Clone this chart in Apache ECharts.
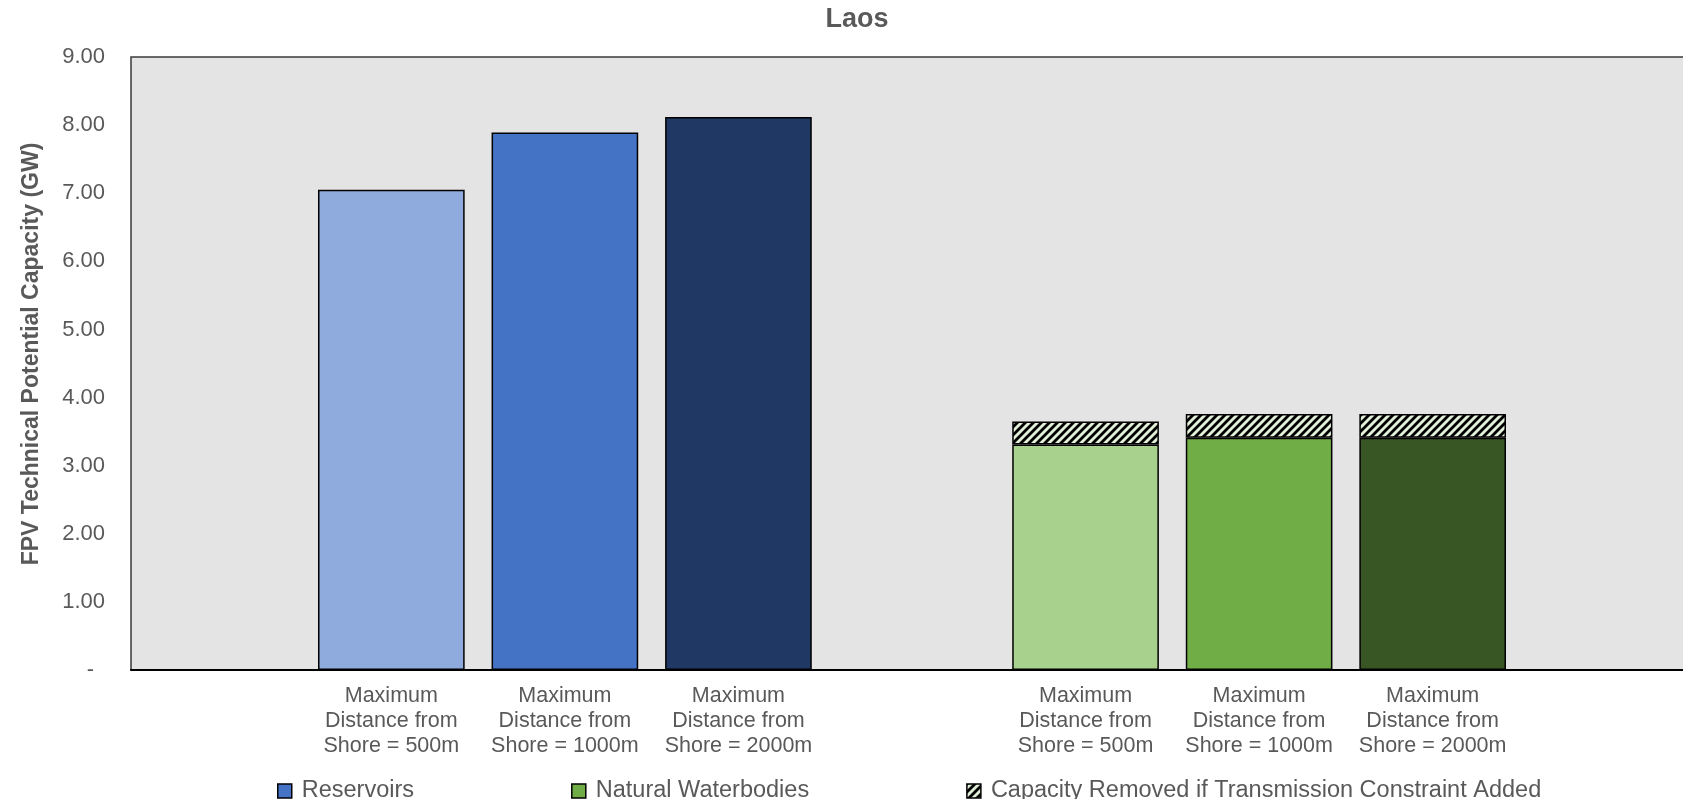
<!DOCTYPE html>
<html>
<head>
<meta charset="utf-8">
<title>Laos FPV Technical Potential Capacity</title>
<script src="https://cdn.jsdelivr.net/npm/echarts@6/dist/echarts.min.js"></script>
<style>
  html, body { margin: 0; padding: 0; background: #ffffff; }
  #chart { width: 1683px; height: 799px; }
</style>
</head>
<body>
<div id="chart"></div>
<script>
// Category slots: empty padding slots around and between the two groups
const categories = [
  '',
  'Maximum\nDistance from\nShore = 500m',
  'Maximum\nDistance from\nShore = 1000m',
  'Maximum\nDistance from\nShore = 2000m',
  '',
  'Maximum\nDistance from\nShore = 500m',
  'Maximum\nDistance from\nShore = 1000m',
  'Maximum\nDistance from\nShore = 2000m',
  ''
];

// Capacity in GW
const reservoirs = [null, 7.05, 7.89, 8.12, null, null, null, null, null];
const naturalWaterbodies = [null, null, null, null, null, 3.31, 3.41, 3.41, null];
const capacityRemoved = [null, null, null, null, null, 0.34, 0.35, 0.35, null];

const seriesNames = [
  'Reservoirs',
  'Natural Waterbodies',
  'Capacity Removed if Transmission Constraint Added'
];
const yAxisTitle = 'FPV Technical Potential Capacity (GW)';

// Per-bar shades (light → dark with increasing shore distance)
const reservoirShades = [null, '#8FAADC', '#4472C4', '#203864', null, null, null, null, null];
const naturalShades = [null, null, null, null, null, '#A9D18E', '#70AD47', '#375623', null];

const FONT = "'Liberation Sans', Arial, sans-serif";
const TEXT_GREY = '#595959';

// Diagonal hatch tile for the transmission-constraint segment
function makeHatch() {
  const s = 8;
  const c = document.createElement('canvas');
  c.width = s; c.height = s;
  const g = c.getContext('2d');
  g.fillStyle = '#E2F0D9';
  g.fillRect(0, 0, s, s);
  g.strokeStyle = '#000000';
  g.lineWidth = 2.8;
  g.beginPath();
  g.moveTo(-s, s * 2); g.lineTo(s * 2, -s);
  g.moveTo(-s * 2, s * 2); g.lineTo(s, -s);
  g.moveTo(0, s * 2); g.lineTo(s * 3, -s);
  g.stroke();
  return c;
}
const hatch = { image: makeHatch(), repeat: 'repeat' };

function coloured(values, shades) {
  return values.map((v, i) => v == null ? null : { value: v, itemStyle: { color: shades[i] } });
}

const barBorder = { borderColor: '#000000', borderWidth: 1.5 };

const chart = echarts.init(document.getElementById('chart'), null, { renderer: 'canvas' });

chart.setOption({
  backgroundColor: '#ffffff',
  animation: false,
  title: {
    text: 'Laos',
    left: 852,
    top: 1,
    textAlign: 'center',
    textStyle: { fontFamily: FONT, fontSize: 27, fontWeight: 'bold', color: TEXT_GREY }
  },
  grid: {
    left: 131,
    top: 57,
    width: 1562,
    height: 613,
    outerBoundsMode: 'none',
    show: true,
    backgroundColor: '#E4E4E4',
    borderColor: '#3a3a3a',
    borderWidth: 1.5
  },
  graphic: [{
    type: 'text',
    x: 32,
    y: 354,
    rotation: Math.PI / 2,
    style: {
      text: yAxisTitle,
      fontFamily: FONT,
      fontSize: 23,
      fontWeight: 'bold',
      fill: TEXT_GREY,
      align: 'center',
      verticalAlign: 'middle'
    }
  }],
  legend: {
    left: 277,
    top: 779,
    padding: 0,
    itemWidth: 14,
    itemHeight: 14,
    itemGap: 157,
    icon: 'rect',
    textStyle: { fontFamily: FONT, fontSize: 23.5, color: TEXT_GREY, padding: [0, 0, 0, 5] },
    data: [
      { name: seriesNames[0], itemStyle: { color: '#4472C4', borderColor: '#000', borderWidth: 1.5 } },
      { name: seriesNames[1], itemStyle: { color: '#70AD47', borderColor: '#000', borderWidth: 1.5 } },
      { name: seriesNames[2], itemStyle: { color: hatch, borderColor: '#000', borderWidth: 1.5 } }
    ]
  },
  xAxis: {
    type: 'category',
    data: categories,
    axisTick: { show: false },
    axisLine: { show: true, lineStyle: { color: '#000000', width: 2 } },
    axisLabel: {
      interval: 0,
      margin: 14,
      fontFamily: FONT,
      fontSize: 21.5,
      lineHeight: 25,
      color: TEXT_GREY
    },
    splitLine: { show: false }
  },
  yAxis: {
    type: 'value',
    min: 0,
    max: 9,
    interval: 1,
    axisLine: { show: false },
    axisTick: { show: false },
    splitLine: { show: false },
    axisLabel: {
      margin: 26,
      fontFamily: FONT,
      fontSize: 22,
      color: TEXT_GREY,
      formatter: v => v === 0 ? '{z|-}' : v.toFixed(2),
      rich: { z: { fontFamily: FONT, fontSize: 22, color: TEXT_GREY, padding: [0, 11, 0, 0] } }
    }
  },
  series: [
    {
      name: seriesNames[0],
      type: 'bar',
      stack: 'cap',
      barCategoryGap: '15.5%',
      itemStyle: Object.assign({ color: '#4472C4' }, barBorder),
      data: coloured(reservoirs, reservoirShades)
    },
    {
      name: seriesNames[1],
      type: 'bar',
      stack: 'cap',
      barCategoryGap: '15.5%',
      itemStyle: Object.assign({ color: '#70AD47' }, barBorder),
      data: coloured(naturalWaterbodies, naturalShades)
    },
    {
      name: seriesNames[2],
      type: 'bar',
      stack: 'cap',
      barCategoryGap: '15.5%',
      itemStyle: Object.assign({ color: hatch }, barBorder),
      data: capacityRemoved
    }
  ]
});
</script>
</body>
</html>
